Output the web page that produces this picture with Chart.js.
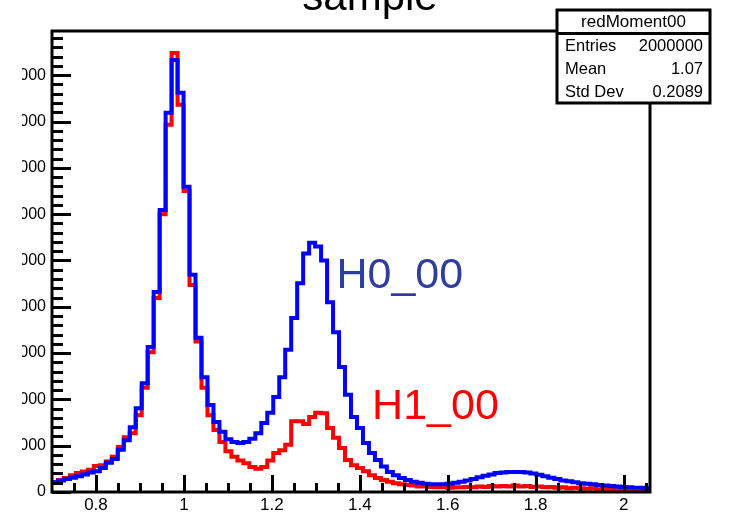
<!DOCTYPE html>
<html>
<head>
<meta charset="utf-8">
<script src="https://cdn.jsdelivr.net/npm/chart.js@4"></script>
<style>
  body { margin: 0; background: #fff; }
  #wrap { position: relative; width: 730px; height: 519px; overflow: hidden; }
  #myChart { position: absolute; left: 0; top: 0; clip-path: inset(0 0 0 22px); }
</style>
</head>
<body>
<div id="wrap"><canvas id="myChart" width="730" height="519"></canvas></div>
<script>
  // histogram binning (100 bins)
  const xMin = 0.7;
  const xMax = 2.06;
  const yMax = 199100;

  const xTicks = [0.8, 1, 1.2, 1.4, 1.6, 1.8, 2];
  const yTicks = [0, 20000, 40000, 60000, 80000, 100000, 120000, 140000, 160000, 180000];

  // H0_00 (blue) bin contents
  const h0Counts = [
    4200, 5000, 5600, 6200, 6800, 7600, 8400, 9000, 10400, 12600,
    14200, 18200, 22400, 28000, 36200, 47000, 62600, 86400, 121800, 163800,
    186600, 172400, 131800, 93800, 66600, 49600, 37600, 30200, 26000, 22800,
    21600, 21200, 21600, 23000, 25400, 29800, 34200, 41000, 49600, 61400,
    75200, 90200, 103000, 107600, 106000, 100000, 82000, 69000, 54000, 42000,
    32400, 27600, 21200, 16800, 13800, 11000, 8600, 7200, 6000, 5200,
    4400, 4000, 3600, 3400, 3400, 3400, 3600, 4000, 4400, 5000,
    5600, 6400, 7000, 7600, 8200, 8400, 8600, 8600, 8600, 8400,
    8000, 7400, 6800, 6200, 5600, 5000, 4600, 4200, 3800, 3600,
    3400, 3000, 2800, 2600, 2400, 2200, 2000, 1800, 1800, 1600
  ];

  // H1_00 (red) bin contents
  const h1Counts = [
    4200, 5200, 6000, 7200, 8200, 8800, 9600, 11200, 11600, 13200,
    15200, 19400, 23600, 25400, 33200, 45000, 60400, 83800, 120000, 158600,
    189600, 167200, 130000, 89400, 65000, 45000, 33200, 26800, 21600, 17600,
    15200, 13600, 12400, 10800, 10000, 10800, 13600, 16800, 18000, 20400,
    30600, 30600, 29400, 32400, 34200, 34000, 27600, 23400, 19000, 13800,
    11600, 10400, 9000, 7200, 6000, 5200, 4400, 3800, 3400, 3000,
    2800, 2400, 2600, 2200, 2000, 2200, 1800, 2000, 2000, 2200,
    2000, 2400, 2200, 2600, 2400, 2600, 2400, 2800, 2400, 2600,
    2200, 2400, 2000, 2200, 1800, 2000, 1600, 1800, 1600, 1400,
    1600, 1200, 1400, 1200, 1400, 1000, 1200, 1000, 1200, 1000
  ];

  const titleText = "sample";
  const statsName = "redMoment00";
  const statsRows = [["Entries", "2000000"], ["Mean", "1.07"], ["Std Dev", "0.2089"]];
  const curveLabels = [
    { text: "H0_00", x: 1.347, y: 93300, color: "#2E3D9E" },
    { text: "H1_00", x: 1.428, y: 36700, color: "#FF0000" }
  ];

  // one point per bin low edge, plus the closing edge
  function histPoints(counts) {
    const w = (xMax - xMin) / counts.length;
    const pts = counts.map((c, i) => ({ x: xMin + i * w, y: c }));
    pts.push({ x: xMax, y: counts[counts.length - 1] });
    return pts;
  }

  const FONT = "'Liberation Sans', Arial, sans-serif";

  const rootFrame = {
    id: "rootFrame",
    afterDatasetsDraw(chart) {
      const { ctx, chartArea: a, scales: { x, y } } = chart;
      ctx.save();
      ctx.strokeStyle = "#000";
      ctx.lineWidth = 3;
      ctx.beginPath();
      // x ticks (inward)
      for (let v = 0.75; v < xMax - 0.001; v += 0.05) {
        const px = Math.round(x.getPixelForValue(v)) + 0.5;
        const major = xTicks.some(t => Math.abs(t - v) < 1e-6);
        ctx.moveTo(px, a.bottom);
        ctx.lineTo(px, a.bottom - (major ? 17 : 9));
      }
      // y ticks (inward)
      for (let v = 0; v < yMax; v += 4000) {
        const py = Math.round(y.getPixelForValue(v)) + 0.5;
        const major = v % 20000 === 0;
        ctx.moveTo(a.left, py);
        ctx.lineTo(a.left + (major ? 19 : 11), py);
      }
      ctx.stroke();
      ctx.strokeRect(a.left, a.top, a.right - a.left, a.bottom - a.top);

      // curve labels
      ctx.font = "43px " + FONT;
      ctx.textAlign = "left";
      ctx.textBaseline = "middle";
      curveLabels.forEach(l => {
        ctx.fillStyle = l.color;
        ctx.fillText(l.text, x.getPixelForValue(l.x), y.getPixelForValue(l.y));
      });
      ctx.restore();
    },
    afterDraw(chart) {
      const ctx = chart.ctx;
      ctx.save();
      // title, cut at the top edge
      ctx.fillStyle = "#000";
      ctx.font = "42px " + FONT;
      ctx.textAlign = "center";
      ctx.textBaseline = "alphabetic";
      ctx.fillText(titleText, 370, 10);

      // stats box
      const bx = 557, by = 10, bw = 153, bh = 93;
      ctx.fillStyle = "#fff";
      ctx.fillRect(bx, by, bw, bh);
      ctx.strokeStyle = "#000";
      ctx.lineWidth = 3;
      ctx.strokeRect(bx, by, bw, bh);
      ctx.beginPath();
      ctx.moveTo(bx, 33.5);
      ctx.lineTo(bx + bw, 33.5);
      ctx.stroke();

      ctx.fillStyle = "#000";
      ctx.font = "17px " + FONT;
      ctx.textBaseline = "middle";
      ctx.textAlign = "center";
      ctx.fillText(statsName, bx + bw / 2, 22);
      ctx.font = "16.5px " + FONT;
      statsRows.forEach((r, i) => {
        const ry = 46 + i * 23;
        ctx.textAlign = "left";
        ctx.fillText(r[0], bx + 8, ry);
        ctx.textAlign = "right";
        ctx.fillText(r[1], bx + bw - 7, ry);
      });
      ctx.restore();
    }
  };

  const ctx = document.getElementById("myChart");

  new Chart(ctx, {
    type: "line",
    data: {
      datasets: [
        {
          label: "H1_00",
          data: histPoints(h1Counts),
          borderColor: "#FF0000",
          borderWidth: 4,
          pointRadius: 0,
          stepped: true,
          fill: false,
          order: 2,
        },
        {
          label: "H0_00",
          data: histPoints(h0Counts),
          borderColor: "#0000FF",
          borderWidth: 4,
          pointRadius: 0,
          stepped: true,
          fill: false,
          order: 1,
        },
      ],
    },
    options: {
      responsive: false,
      animation: false,
      layout: { padding: { top: 31, right: 80, left: 0, bottom: 0 } },
      plugins: {
        legend: { display: false },
        tooltip: { enabled: false },
      },
      scales: {
        x: {
          type: "linear",
          min: xMin,
          max: xMax,
          grid: { display: false, drawTicks: false },
          border: { display: false },
          afterBuildTicks: s => { s.ticks = xTicks.map(v => ({ value: v })); },
          afterFit: s => { s.height = 27; },
          ticks: {
            padding: 3,
            color: "#000",
            maxRotation: 0,
            autoSkip: false,
            font: { family: FONT, size: 17 },
            callback: v => String(v),
          },
        },
        y: {
          min: 0,
          max: yMax,
          grid: { display: false, drawTicks: false },
          border: { display: false },
          afterBuildTicks: s => { s.ticks = yTicks.map(v => ({ value: v })); },
          afterFit: s => { s.width = 52; },
          ticks: {
            padding: 6,
            color: "#000",
            font: { family: FONT, size: 16 },
            callback: v => String(v),
          },
        },
      },
    },
    plugins: [rootFrame],
  });
</script>
</body>
</html>
